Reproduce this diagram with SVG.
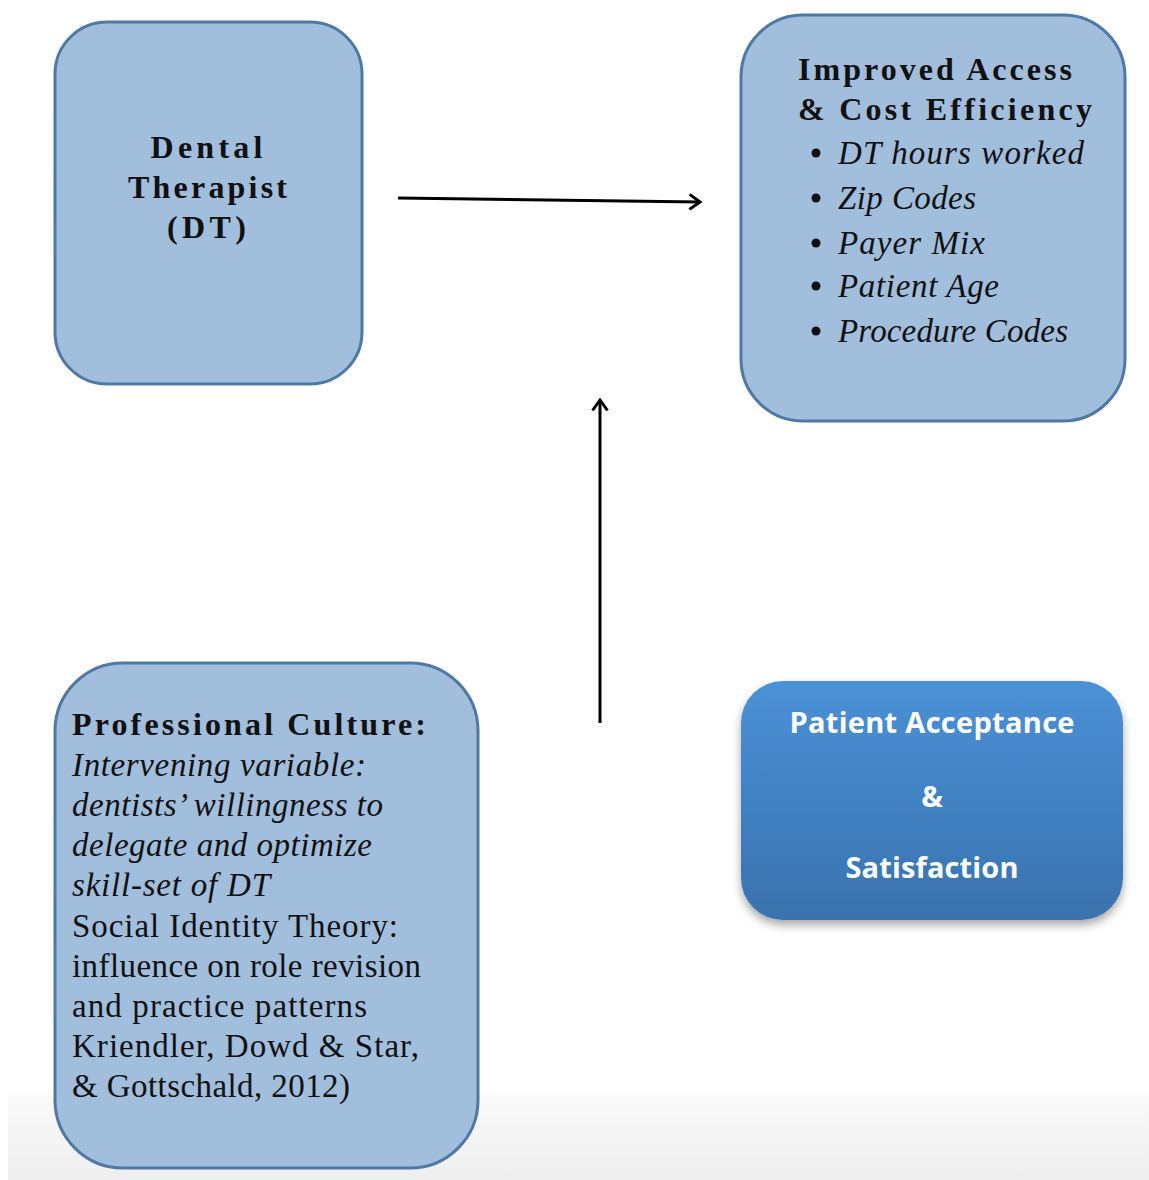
<svg xmlns="http://www.w3.org/2000/svg" width="1149" height="1180" viewBox="0 0 1149 1180">
<style>
.box{fill:#a2bedd;stroke:#4f78a4;stroke-width:3}
.t{font-family:"Liberation Serif",serif;font-size:33px;fill:#111}
.b{font-weight:bold;font-size:32px;letter-spacing:1px}
.i{font-style:italic}
.w{font-family:"Open Sans","Liberation Sans",sans-serif;font-weight:bold;font-size:29px;fill:#fff;text-anchor:middle}
.conn{stroke:#000;stroke-width:3;fill:none}
</style>
<defs>
<marker id="arr" viewBox="0 0 14 18" refX="12" refY="9" markerWidth="14" markerHeight="18" markerUnits="userSpaceOnUse" orient="auto">
<path d="M1.5,1.5 L12,9 L1.5,16.5" fill="none" stroke="#000" stroke-width="3"/>
</marker>
<linearGradient id="blue" x1="0" y1="0" x2="0" y2="1">
<stop offset="0" stop-color="#4a91d6"/>
<stop offset="1" stop-color="#3a72ae"/>
</linearGradient>
<linearGradient id="band" x1="0" y1="0" x2="0" y2="1">
<stop offset="0" stop-color="#fafafa"/>
<stop offset="1" stop-color="#eeeeee"/>
</linearGradient>
<filter id="sh" x="-10%" y="-10%" width="120%" height="130%">
<feDropShadow dx="0" dy="5" stdDeviation="5" flood-color="#000" flood-opacity="0.35"/>
</filter>
</defs>
<rect width="1149" height="1180" fill="#fff"/>
<rect x="8" y="1095" width="1141" height="85" fill="url(#band)"/>

<g id="connectors">
<path class="conn" d="M398,198 L700,202" marker-end="url(#arr)"/>
<path class="conn" d="M600,723 L600,400" marker-end="url(#arr)"/>
</g>

<g id="dental-therapist">
<rect class="box" x="55" y="22" width="307" height="362" rx="52"/>
<text class="t b" x="207" y="158" text-anchor="middle" textLength="113">Dental</text>
<text class="t b" x="208" y="198" text-anchor="middle" textLength="160">Therapist</text>
<text class="t b" x="207" y="238" text-anchor="middle" textLength="80">(DT)</text>
</g>

<g id="improved-access">
<rect class="box" x="741" y="15" width="384" height="406" rx="62"/>
<text class="t b" x="798" y="80" textLength="275">Improved Access</text>
<text class="t b" x="798" y="120" textLength="295">&amp; Cost Efficiency</text>
<g>
<circle cx="816" cy="153" r="4.5" fill="#111"/>
<circle cx="816" cy="198" r="4.5" fill="#111"/>
<circle cx="816" cy="243" r="4.5" fill="#111"/>
<circle cx="816" cy="286" r="4.5" fill="#111"/>
<circle cx="816" cy="331" r="4.5" fill="#111"/>
</g>
<text class="t i" x="838" y="164" textLength="246">DT hours worked</text>
<text class="t i" x="838" y="209" textLength="138">Zip Codes</text>
<text class="t i" x="838" y="254" textLength="147">Payer Mix</text>
<text class="t i" x="838" y="297" textLength="161">Patient Age</text>
<text class="t i" x="838" y="342" textLength="230">Procedure Codes</text>
</g>

<g id="professional-culture">
<rect class="box" x="55" y="663" width="423" height="505" rx="68"/>
<text class="t b" x="72" y="735" textLength="355">Professional Culture:</text>
<text class="t i" x="72" y="776" textLength="294">Intervening variable:</text>
<text class="t i" x="72" y="816" textLength="311">dentists’ willingness to</text>
<text class="t i" x="72" y="856" textLength="300">delegate and optimize</text>
<text class="t i" x="72" y="896" textLength="198">skill-set of DT</text>
<text class="t" x="72" y="937" textLength="326">Social Identity Theory:</text>
<text class="t" x="72" y="977" textLength="349">influence on role revision</text>
<text class="t" x="72" y="1017" textLength="295">and practice patterns</text>
<text class="t" x="72" y="1057" textLength="347">Kriendler, Dowd &amp; Star,</text>
<text class="t" x="72" y="1097" textLength="278">&amp; Gottschald, 2012)</text>
</g>

<g id="patient-acceptance">
<rect x="741" y="681" width="382" height="239" rx="42" fill="url(#blue)" filter="url(#sh)"/>
<text class="w" x="932" y="733" textLength="285">Patient Acceptance</text>
<text class="w" x="932" y="807">&amp;</text>
<text class="w" x="932" y="878" textLength="173">Satisfaction</text>
</g>
</svg>
